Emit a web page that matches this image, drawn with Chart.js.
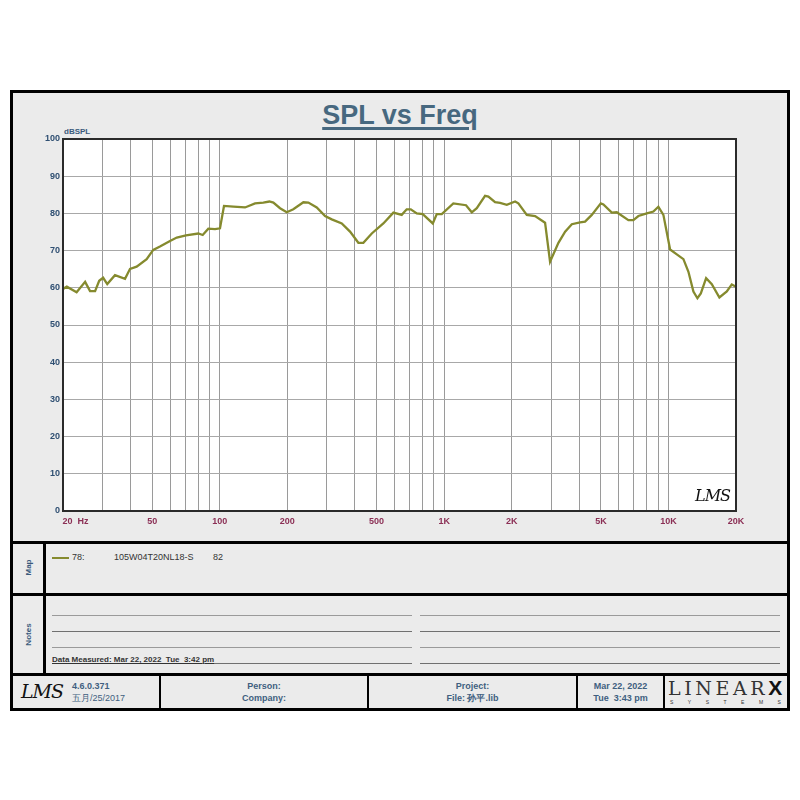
<!DOCTYPE html>
<html>
<head>
<meta charset="utf-8">
<script src="https://cdn.jsdelivr.net/npm/chart.js@4"></script>
<style>
  html, body { margin: 0; padding: 0; background: #fff; }
  body { width: 800px; height: 800px; position: relative; font-family: Arial, "Liberation Sans", sans-serif; overflow: hidden; }
  .abs { position: absolute; }
  #frame { left: 10px; top: 90px; width: 780px; height: 621px; border: 3px solid #000; box-sizing: border-box; background: #ebebeb; }
  .hsep { left: 10px; width: 780px; height: 3px; background: #000; }
  .vsep { background: #000; }
  #title { left: 0; width: 800px; top: 100px; text-align: center; font: bold 27px Arial, "Liberation Sans", sans-serif; color: #47687f; text-decoration: underline; text-decoration-thickness: 3px; text-underline-offset: 3px; }
  #ylab { left: 64px; top: 127px; font: bold 8px Arial, sans-serif; color: #3a5a7c; }
  #chartBox { left: 14px; top: 94px; }
  .side { font: bold 8px Arial, sans-serif; color: #3a5a7c; transform: rotate(-90deg); transform-origin: center; width: 40px; text-align: center; }
  .leg { font: 9px Arial, sans-serif; color: #333; top: 552px; }
  .nl { height: 1px; }
  .foot { font: bold 9px Arial, sans-serif; color: #3f5f80; text-align: center; line-height: 12px; }
  .lms { font-family: "DejaVu Serif", serif; font-style: italic; color: #111; }
</style>
</head>
<body>
<div id="frame" class="abs"></div>

<div id="title" class="abs">SPL vs Freq</div>
<div id="ylab" class="abs">dBSPL</div>
<div id="chartBox" class="abs"><canvas id="chart" width="772" height="447"></canvas></div>
<div class="abs lms" style="left:695px; top:486px; font-size:16px; letter-spacing:-1px;">LMS</div>

<!-- section separators -->
<div class="abs hsep" style="top:541px;"></div>
<div class="abs hsep" style="top:593px;"></div>
<div class="abs hsep" style="top:673px;"></div>
<div class="abs vsep" style="left:43px; top:541px; width:3px; height:134px;"></div>

<!-- map -->
<div class="abs side" style="left:8px; top:563px;">Map</div>
<div class="abs" style="left:52px; top:557px; width:17px; height:2px; background:#858a2e;"></div>
<div class="abs leg" style="left:72px;">78:</div>
<div class="abs leg" style="left:114px;">105W04T20NL18-S</div>
<div class="abs leg" style="left:213px;">82</div>

<!-- notes -->
<div class="abs side" style="left:8px; top:630px;">Notes</div>
<div class="abs nl" style="left:52px; top:615px; width:360px; background:#9a9a9a;"></div>
<div class="abs nl" style="left:52px; top:631px; width:360px; background:#707070;"></div>
<div class="abs nl" style="left:52px; top:647px; width:360px; background:#9a9a9a;"></div>
<div class="abs nl" style="left:52px; top:663px; width:360px; background:#707070;"></div>
<div class="abs nl" style="left:420px; top:615px; width:360px; background:#9a9a9a;"></div>
<div class="abs nl" style="left:420px; top:631px; width:360px; background:#707070;"></div>
<div class="abs nl" style="left:420px; top:647px; width:360px; background:#9a9a9a;"></div>
<div class="abs nl" style="left:420px; top:663px; width:360px; background:#707070;"></div>
<div class="abs" style="left:52px; top:655px; font:bold 8px Arial, sans-serif; color:#333; text-decoration:underline;">Data Measured: Mar 22, 2022&nbsp; Tue&nbsp; 3:42 pm</div>

<!-- footer -->
<div class="abs vsep" style="left:159px; top:674px; width:2px; height:36px;"></div>
<div class="abs vsep" style="left:367px; top:674px; width:2px; height:36px;"></div>
<div class="abs vsep" style="left:576px; top:674px; width:2px; height:36px;"></div>
<div class="abs vsep" style="left:663px; top:674px; width:2px; height:36px;"></div>
<div class="abs lms" style="left:21px; top:680px; font-size:19px; letter-spacing:-1px;">LMS</div>
<div class="abs foot" style="left:72px; top:680px; text-align:left;">4.6.0.371<br><span style="font-weight:normal;">五月/25/2017</span></div>
<div class="abs foot" style="left:161px; width:206px; top:680px;">Person:<br>Company:</div>
<div class="abs foot" style="left:369px; width:207px; top:680px;">Project:<br><span>File: 孙平.lib</span></div>
<div class="abs foot" style="left:578px; width:85px; top:680px;">Mar 22, 2022<br>Tue&nbsp; 3:43 pm</div>
<div class="abs" style="left:668px; top:676px; font:19px 'DejaVu Serif', serif; color:#333; letter-spacing:3.6px;">LINEAR<b style="font-family:Arial, sans-serif; font-size:21px; color:#111; letter-spacing:0;">X</b></div>
<div class="abs" style="left:670px; top:699px; font:5px Arial, sans-serif; color:#333; letter-spacing:14.5px;">SYSTEMS</div>

<script>
// frequency (Hz) and level (dB SPL)
const FREQ = [20, 20.8, 23.0, 25.1, 26.4, 27.8, 29.0, 30.2, 31.5, 34.1, 37.8, 39.8, 42.6, 47.2, 50.5, 54.1, 60.0, 64.3, 70.7, 80.2,
  83.9, 88.9, 95.2, 100.2, 104.4, 114.9, 129.6, 143.6, 156.3, 166.3, 173.3, 185.6, 198.8, 212.7, 235.8, 248.2, 270.5, 294.6, 315.6, 349.7,
  380.6, 414.6, 436.4, 475.8, 535.8, 594, 647, 681, 710, 755, 803, 890, 927, 976, 1099, 1252, 1328, 1398, 1522, 1575,
  1687, 1776, 1902, 2072, 2142, 2336, 2544, 2818, 2966, 3232, 3462, 3708, 4036, 4248, 4552, 4992, 5128, 5588, 5882, 6628,
  6976, 7344, 8008, 8566, 9016, 9492, 10170, 10892, 11660, 12274, 12918, 13460, 13938, 14716, 15602, 16868, 18198, 19156, 20000];
const SPL = [59.7, 60.3, 58.8, 61.6, 59.1, 59.1, 61.9, 62.7, 61.0, 63.4, 62.4, 65.1, 65.7, 67.7, 70.2, 71.1, 72.6, 73.5, 74.1, 74.6,
  74.2, 75.9, 75.8, 76.0, 82.0, 81.8, 81.6, 82.7, 82.9, 83.2, 82.9, 81.4, 80.3, 81.1, 83.0, 82.9, 81.6, 79.3, 78.4, 77.3,
  75.1, 72.1, 72.1, 74.6, 77.3, 80.2, 79.6, 81.1, 81.1, 80.0, 79.8, 77.3, 79.8, 79.8, 82.7, 82.2, 80.3, 81.4, 84.7, 84.5,
  83.0, 82.8, 82.3, 83.2, 82.7, 79.6, 79.3, 77.5, 67.0, 72.1, 75.1, 77.1, 77.6, 77.8, 79.6, 82.7, 82.4, 80.2, 80.3, 78.2,
  78.2, 79.3, 80.0, 80.5, 81.8, 79.6, 70.3, 69.0, 67.7, 64.3, 59.0, 57.2, 58.5, 62.6, 61.0, 57.4, 59.0, 60.9, 60.3];

const GRID_FREQ = [20, 30, 40, 50, 60, 70, 80, 90, 100, 200, 300, 400, 500, 600, 700, 800, 900, 1000,
  2000, 3000, 4000, 5000, 6000, 7000, 8000, 9000, 10000, 20000];
const X_LABELS = { 20: "          20  Hz", 50: "50", 100: "100", 200: "200", 500: "500", 1000: "1K", 2000: "2K", 5000: "5K", 10000: "10K", 20000: "20K" };
const Y_TICKS = [0, 10, 20, 30, 40, 50, 60, 70, 80, 90, 100];

const points = FREQ.map((f, i) => ({ x: f, y: SPL[i] }));

// white plot background + dark frame round the plot area
const plotFrame = {
  id: "plotFrame",
  beforeDraw(chart) {
    const a = chart.chartArea, c = chart.ctx;
    c.save();
    c.fillStyle = "#fff";
    c.fillRect(a.left, a.top, a.right - a.left, a.bottom - a.top);
    c.restore();
  },
  afterDatasetsDraw(chart) {
    const a = chart.chartArea, c = chart.ctx;
    c.save();
    c.strokeStyle = "#2a2a2a";
    c.lineWidth = 2;
    c.strokeRect(a.left, a.top, a.right - a.left, a.bottom - a.top);
    c.restore();
  }
};

new Chart(document.getElementById("chart"), {
  type: "line",
  data: {
    datasets: [{
      data: points,
      borderColor: "#858a2e",
      borderWidth: 2.3,
      pointRadius: 0,
      tension: 0,
      fill: false
    }]
  },
  options: {
    responsive: false,
    animation: false,
    layout: { padding: { top: 45, right: 50, bottom: 0, left: 0 } },
    plugins: { legend: { display: false }, tooltip: { enabled: false } },
    scales: {
      x: {
        type: "logarithmic",
        min: 20, max: 20000,
        afterBuildTicks: (s) => { s.ticks = GRID_FREQ.map(v => ({ value: v })); },
        afterFit: (s) => { s.height = 30; },
        grid: { color: "#9a9a9a", lineWidth: 1, drawTicks: false },
        border: { display: false },
        ticks: {
          autoSkip: false, maxRotation: 0, padding: 5,
          color: "#8b2f55",
          font: { family: "Arial", size: 9, weight: "bold" },
          callback: (v) => X_LABELS[v] || ""
        }
      },
      y: {
        min: 0, max: 100,
        afterBuildTicks: (s) => { s.ticks = Y_TICKS.map(v => ({ value: v })); },
        afterFit: (s) => { s.width = 49; },
        grid: { color: "#a8a8a8", lineWidth: 1, drawTicks: false },
        border: { display: false },
        ticks: {
          padding: 3,
          color: "#2f4f72",
          font: { family: "Arial", size: 9, weight: "bold" }
        }
      }
    }
  },
  plugins: [plotFrame]
});
</script>
</body>
</html>
